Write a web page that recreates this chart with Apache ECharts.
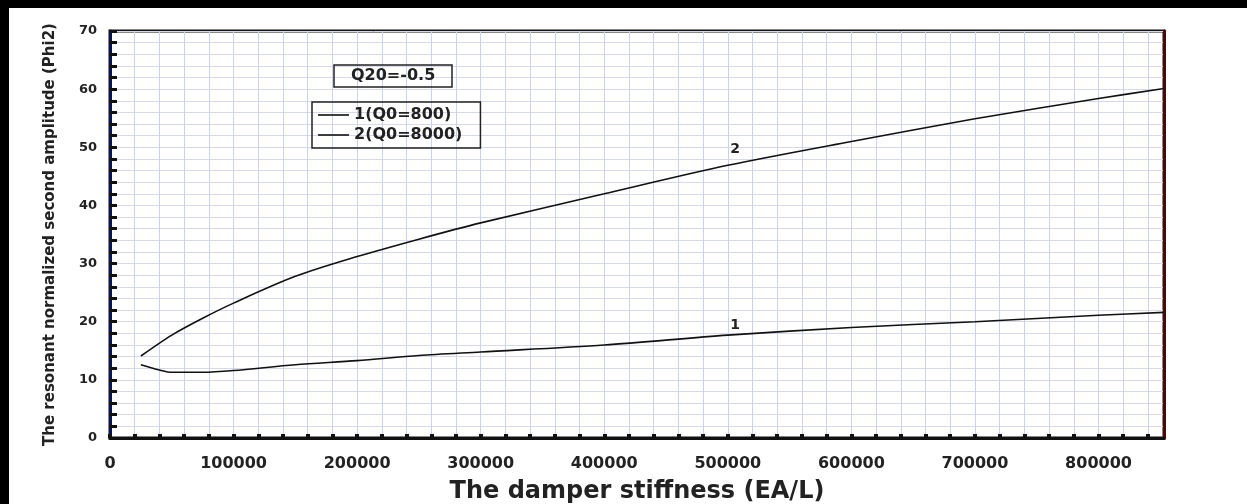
<!DOCTYPE html>
<html>
<head>
<meta charset="utf-8">
<script src="https://cdn.jsdelivr.net/npm/echarts@6/dist/echarts.min.js"></script>
<style>
html,body{margin:0;padding:0;background:#fff;}
#chart{width:1247px;height:504px;}
</style>
</head>
<body>
<div id="chart"></div>
<script>
// ---- data ----
const xStiff1 = [25000, 40000, 50000, 75000, 100000, 150000, 200000, 250000, 300000, 400000, 500000, 600000, 700000, 800000, 853000];
const phi2Q800 = [12.6, 11.7, 11.3, 11.3, 11.6, 12.6, 13.3, 14.2, 14.8, 16.0, 17.7, 19.0, 20.0, 21.1, 21.6];
const xStiff2 = [25000, 50000, 75000, 100000, 150000, 200000, 250000, 300000, 400000, 500000, 600000, 700000, 800000, 853000];
const phi2Q8000 = [14.1, 17.7, 20.6, 23.2, 27.8, 31.2, 34.2, 37.0, 42.0, 46.9, 51.0, 54.9, 58.4, 60.1];
const seriesNames = ['1(Q0=800)', '2(Q0=8000)'];
const curveTags = [['1', 506000, 19.3], ['2', 506000, 49.6]];
const boxTitle = 'Q20=-0.5';
const xTitle = 'The damper stiffness (EA/L)';
const yTitle = 'The resonant normalized second amplitude (Phi2)';
const xMax = 853000;
const yMax = 70;

const FONT = 'DejaVu Sans';
const TXT = '#222';

function pairs(xs, ys) { return xs.map((x, i) => [x, ys[i]]); }

const chart = echarts.init(document.getElementById('chart'), null, {renderer: 'canvas'});
chart.setOption({
  backgroundColor: '#fff',
  animation: false,
  title: {
    text: boxTitle,
    left: 334, top: 65,
    padding: [3, 17],
    borderWidth: 1.5, borderColor: '#222',
    textStyle: {fontFamily: FONT, fontWeight: 'bold', fontSize: 16, color: TXT}
  },
  legend: {
    data: seriesNames,
    orient: 'vertical',
    left: 312, top: 102,
    padding: [5, 18, 5, 6],
    itemGap: 4,
    icon: 'rect',
    itemWidth: 31, itemHeight: 1.6,
    borderWidth: 1.5, borderColor: '#222',
    selectedMode: false,
    textStyle: {fontFamily: FONT, fontWeight: 'bold', fontSize: 16, color: TXT, padding: [0, 0, 0, 0]}
  },
  graphic: [
    {type: 'rect', left: 0, top: 0, shape: {width: 9, height: 504}, style: {fill: '#000'}, z: 100},
    {type: 'rect', left: 0, top: 0, shape: {width: 1247, height: 8}, style: {fill: '#000'}, z: 100}
  ],
  grid: {
    left: 110, right: 83, top: 31, bottom: 66,
    containLabel: false,
    outerBoundsMode: 'none',
    show: true, borderColor: '#111', borderWidth: 3
  },
  xAxis: {
    type: 'value', min: 0, max: xMax, interval: 20000,
    name: xTitle, nameLocation: 'middle', nameGap: 42,
    nameTextStyle: {fontFamily: FONT, fontWeight: 'bold', fontSize: 24, color: TXT},
    axisLine: {lineStyle: {color: '#111', width: 3}},
    axisTick: {inside: true, length: 4, lineStyle: {color: '#111', width: 4}},
    axisLabel: {
      margin: 18, fontFamily: FONT, fontWeight: 'bold', fontSize: 16, color: TXT,
      showMaxLabel: false,
      formatter: v => (v % 100000 === 0 ? String(v) : '')
    },
    splitLine: {show: true, lineStyle: {color: '#cdd0ee', width: 1}}
  },
  yAxis: [{
    type: 'value', min: 0, max: yMax, interval: 2,
    name: yTitle, nameLocation: 'middle', nameGap: 52,
    nameTextStyle: {fontFamily: FONT, fontWeight: 'bold', fontSize: 15, color: TXT},
    axisLine: {lineStyle: {color: '#0a1450', width: 3}},
    axisTick: {inside: true, length: 7, lineStyle: {color: '#111', width: 3}},
    axisLabel: {
      margin: 13, fontFamily: FONT, fontWeight: 'bold', fontSize: 13, color: TXT,
      formatter: v => (v % 10 === 0 ? String(v) : '')
    },
    splitLine: {show: true, lineStyle: {color: '#d6d9e8', width: 1}}
  }, {
    type: 'value', min: 0, max: yMax, position: 'right',
    axisLine: {show: true, lineStyle: {color: '#4a0808', width: 3}},
    axisTick: {show: false}, axisLabel: {show: false}, splitLine: {show: false}
  }],
  series: [{
    name: seriesNames[0], type: 'line', smooth: 0.3, symbol: 'none',
    data: pairs(xStiff1, phi2Q800),
    lineStyle: {color: '#111', width: 1.6}, itemStyle: {color: '#111'},
    markPoint: {
      symbol: 'circle', symbolSize: 0,
      label: {show: true, formatter: p => p.name, fontFamily: FONT, fontWeight: 'bold', fontSize: 14, color: TXT},
      data: [{name: curveTags[0][0], coord: [curveTags[0][1], curveTags[0][2]]}]
    }
  }, {
    name: seriesNames[1], type: 'line', smooth: 0.3, symbol: 'none',
    data: pairs(xStiff2, phi2Q8000),
    lineStyle: {color: '#111', width: 1.6}, itemStyle: {color: '#111'},
    markPoint: {
      symbol: 'circle', symbolSize: 0,
      label: {show: true, formatter: p => p.name, fontFamily: FONT, fontWeight: 'bold', fontSize: 14, color: TXT},
      data: [{name: curveTags[1][0], coord: [curveTags[1][1], curveTags[1][2]]}]
    }
  }]
});
</script>
</body>
</html>
